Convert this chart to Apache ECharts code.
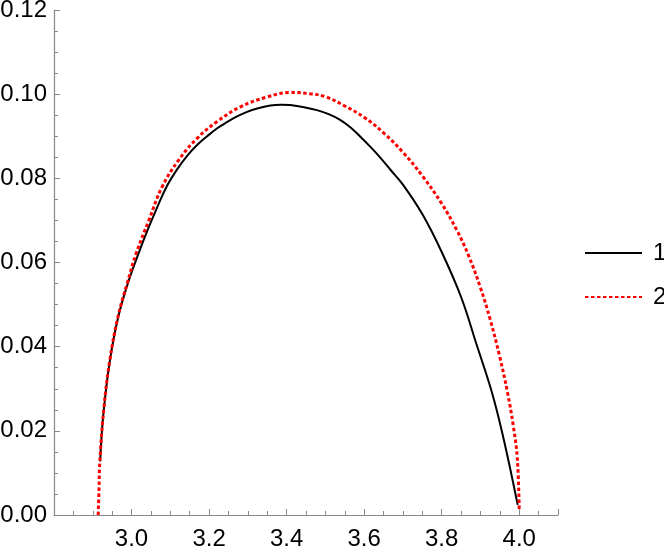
<!DOCTYPE html>
<html>
<head>
<meta charset="utf-8">
<script src="https://cdn.jsdelivr.net/npm/echarts@6/dist/echarts.min.js"></script>
<style>html,body{margin:0;padding:0;background:#fff}#c{width:664px;height:546px}</style>
</head>
<body>
<div id="c"></div>
<script>
// Series 1 (simulation, black solid)
const s1x = [2.919, 2.923, 2.929, 2.944, 2.965, 2.989, 3.015, 3.040, 3.067, 3.092, 3.118, 3.145, 3.169, 3.195, 3.221, 3.247, 3.272, 3.298, 3.324, 3.358, 3.385, 3.409, 3.445, 3.478, 3.510, 3.538, 3.565, 3.589, 3.615, 3.641, 3.670, 3.700, 3.750, 3.800, 3.850, 3.890, 3.930, 3.960, 3.996];
const s1y = [0.0127, 0.0190, 0.0255, 0.0366, 0.0468, 0.0546, 0.0614, 0.0674, 0.0733, 0.0783, 0.0822, 0.0855, 0.0879, 0.0900, 0.0919, 0.0934, 0.0947, 0.0958, 0.0966, 0.0973, 0.0975, 0.0974, 0.0969, 0.0962, 0.0952, 0.0939, 0.0921, 0.0900, 0.0876, 0.0850, 0.0818, 0.0785, 0.0715, 0.0625, 0.0518, 0.0405, 0.0290, 0.0180, 0.0024];
// Series 2 (theory, red dotted)
const s2x = [2.914, 2.916, 2.918, 2.929, 2.944, 2.965, 2.989, 3.012, 3.045, 3.079, 3.122, 3.169, 3.221, 3.281, 3.349, 3.409, 3.460, 3.500, 3.550, 3.600, 3.650, 3.700, 3.750, 3.800, 3.840, 3.870, 3.900, 3.925, 3.950, 3.970, 3.985, 3.995, 4.000];
const s2y = [0.0000, 0.0060, 0.0123, 0.0257, 0.0368, 0.0471, 0.0551, 0.0622, 0.0701, 0.0780, 0.0844, 0.0895, 0.0935, 0.0970, 0.0993, 0.1004, 0.1001, 0.0994, 0.0972, 0.0945, 0.0908, 0.0862, 0.0806, 0.0740, 0.0675, 0.0615, 0.0540, 0.0465, 0.0375, 0.0290, 0.0210, 0.0135, 0.0010];
const seriesNames = ['1', '2'];
const xTickLabels = ['3.0', '3.2', '3.4', '3.6', '3.8', '4.0'];

const pairs = (xs, ys) => xs.map((x, i) => [x, ys[i]]);
const FONT = 'Liberation Sans';
const axisCol = '#888';

const chart = echarts.init(document.getElementById('c'), null, {renderer: 'canvas'});
chart.setOption({
  animation: false,
  backgroundColor: '#fff',
  grid: {left: 54, right: 106, top: 10, bottom: 31, containLabel: false, outerBoundsMode: 'none'},
  legend: {
    orient: 'vertical', left: 579, top: 236,
    itemWidth: 57, itemHeight: 14, itemGap: 20,
    itemStyle: {opacity: 0},
    textStyle: {fontFamily: FONT, fontSize: 24, color: '#000', padding: [0, 0, 0, 6]},
    data: seriesNames
  },
  xAxis: {
    type: 'value', min: 2.8, max: 4.1, interval: 0.2,
    axisLine: {show: true, onZero: false, lineStyle: {color: axisCol, width: 1.2}},
    axisTick: {show: true, inside: true, length: 6, lineStyle: {color: axisCol}},
    minorTick: {show: true, splitNumber: 4, length: 4, lineStyle: {color: axisCol}},
    splitLine: {show: false},
    axisLabel: {
      fontFamily: FONT, fontSize: 24, color: '#000', margin: 12,
      showMinLabel: true, showMaxLabel: false,
      formatter: v => { const s = v.toFixed(1); return xTickLabels.includes(s) ? s : ''; }
    }
  },
  yAxis: {
    type: 'value', min: 0, max: 0.12, interval: 0.02,
    axisLine: {show: true, onZero: false, lineStyle: {color: axisCol, width: 1.2}},
    axisTick: {show: true, inside: true, length: 6, lineStyle: {color: axisCol}},
    minorTick: {show: true, splitNumber: 4, length: 4, lineStyle: {color: axisCol}},
    splitLine: {show: false},
    axisLabel: {fontFamily: FONT, fontSize: 24, color: '#000', margin: 7, formatter: v => v.toFixed(2)}
  },
  series: [
    {
      name: seriesNames[0], type: 'line', data: pairs(s1x, s1y), symbol: 'none', smooth: 0.4,
      itemStyle: {color: '#000'},
      lineStyle: {color: '#000', width: 2}, z: 3
    },
    {
      name: seriesNames[1], type: 'line', data: pairs(s2x, s2y), symbol: 'none', smooth: 0.4,
      itemStyle: {color: '#f00'},
      lineStyle: {color: '#f00', width: 3, type: [3.5, 2.5]}, z: 4
    }
  ]
});
</script>
</body>
</html>
